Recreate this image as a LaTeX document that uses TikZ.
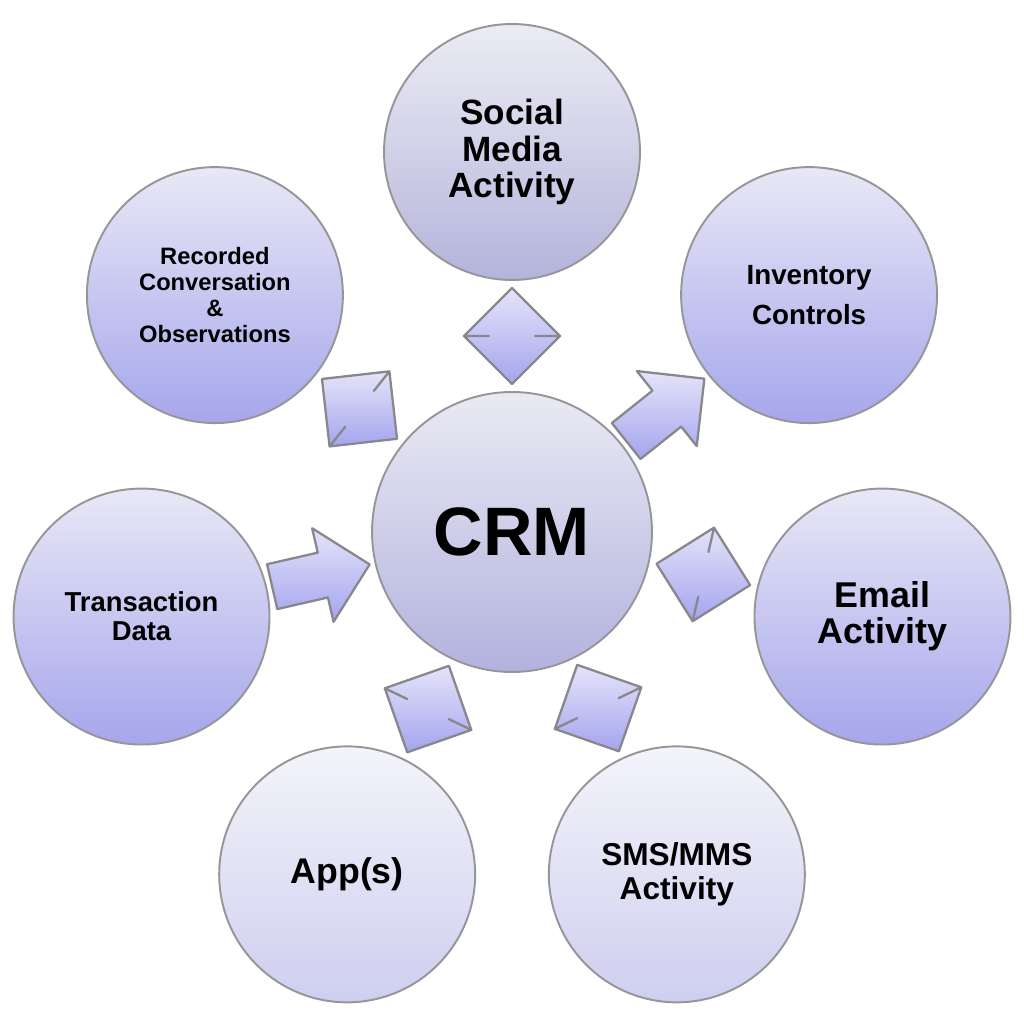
\documentclass[tikz,border=0pt]{standalone}
\usepackage{fontspec}
\setmainfont{Liberation Sans}
\usetikzlibrary{calc}

\definecolor{rimgray}{RGB}{150,150,152}
\definecolor{tickgray}{RGB}{136,136,140}
\definecolor{arrtop}{RGB}{228,228,250}
\definecolor{arrbot}{RGB}{164,164,238}
\definecolor{hubtop}{RGB}{234,234,244}
\definecolor{hubbot}{RGB}{178,178,222}
\definecolor{deeptop}{RGB}{232,232,246}
\definecolor{deepbot}{RGB}{166,166,236}
\definecolor{greytop}{RGB}{236,236,244}
\definecolor{greybot}{RGB}{180,180,220}
\definecolor{paletop}{RGB}{244,244,250}
\definecolor{palebot}{RGB}{206,206,240}

\begin{document}
\begin{tikzpicture}[
  x=0.02cm,
  y=0.02cm,
  hub/.style={
    circle,
    draw=rimgray,
    line width=1.1pt,
    minimum size=5.6cm,
    inner sep=0pt,
    align=center,
    top color=hubtop,
    bottom color=hubbot,
    font=\bfseries\fontsize{39}{44}\selectfont
  },
  spoke/.style={
    circle,
    draw=rimgray,
    line width=1.1pt,
    minimum size=5.12cm,
    inner sep=0pt,
    align=center,
    top color=deeptop,
    bottom color=deepbot
  },
  arrowshape/.style={draw=tickgray, line width=1.3pt, line join=round, top color=arrtop, bottom color=arrbot},
  pics/fatarrow/.style={code={
    \path[arrowshape] (-50,-23) -- (2,-23) -- (2,-48) -- (50,0) -- (2,48) -- (2,23) -- (-50,23) -- cycle;
  }},
  pics/twinarrow/.style={code={
    \path[arrowshape] (48,0) -- (0,48) -- (0,23) -- (0,48) -- (-48,0) -- (0,-48) -- (0,-23) -- (0,-48) -- cycle;
  }}
]
\useasboundingbox (0,0) rectangle (1024,1024);

\node[hub] (crm) at (512,492) {CRM};

\node[spoke, top color=greytop, bottom color=greybot, font=\bfseries\fontsize{20}{21}\selectfont]
  (social) at ($(crm)+(90:380)$) {Social\\Media\\Activity};
\node[spoke, font=\bfseries\fontsize{15.8}{22.7}\selectfont]
  (inv) at ($(crm)+(38.57:380)$) {Inventory\\Controls};
\node[spoke, font=\bfseries\fontsize{20.4}{20.6}\selectfont]
  (email) at ($(crm)+(-12.86:380)$) {Email\\Activity};
\node[spoke, top color=paletop, bottom color=palebot, font=\bfseries\fontsize{18}{19.5}\selectfont]
  (sms) at ($(crm)+(-64.29:380)$) {SMS/MMS\\Activity};
\node[spoke, top color=paletop, bottom color=palebot, font=\bfseries\fontsize{20.3}{22}\selectfont]
  (app) at ($(crm)+(-115.71:380)$) {App(s)};
\node[spoke, font=\bfseries\fontsize{15.6}{16.5}\selectfont]
  (trans) at ($(crm)+(192.86:380)$) {Transaction\\Data};
\node[spoke, font=\bfseries\fontsize{13.5}{14.7}\selectfont]
  (rec) at ($(crm)+(141.43:380)$) {Recorded\\Conversation\\\&\\Observations};

% block arrows between the hub and the spokes
\pic[rotate=38.57] at ($(crm.38.57)!0.5!(inv.218.57)$) {fatarrow};
\pic[rotate=12.86] at ($(trans.12.86)!0.5!(crm.192.86)$) {fatarrow};
\pic[rotate=90] at ($(crm.90)!0.5!(social.270)$) {twinarrow};
\pic[rotate=-12.86] at ($(crm.-12.86)!0.5!(email.167.14)$) {twinarrow};
\pic[rotate=-64.29] at ($(crm.-64.29)!0.5!(sms.115.71)$) {twinarrow};
\pic[rotate=-115.71] at ($(crm.-115.71)!0.5!(app.64.29)$) {twinarrow};
\pic[rotate=141.43] at ($(crm.141.43)!0.5!(rec.-38.57)$) {twinarrow};
\end{tikzpicture}
\end{document}
